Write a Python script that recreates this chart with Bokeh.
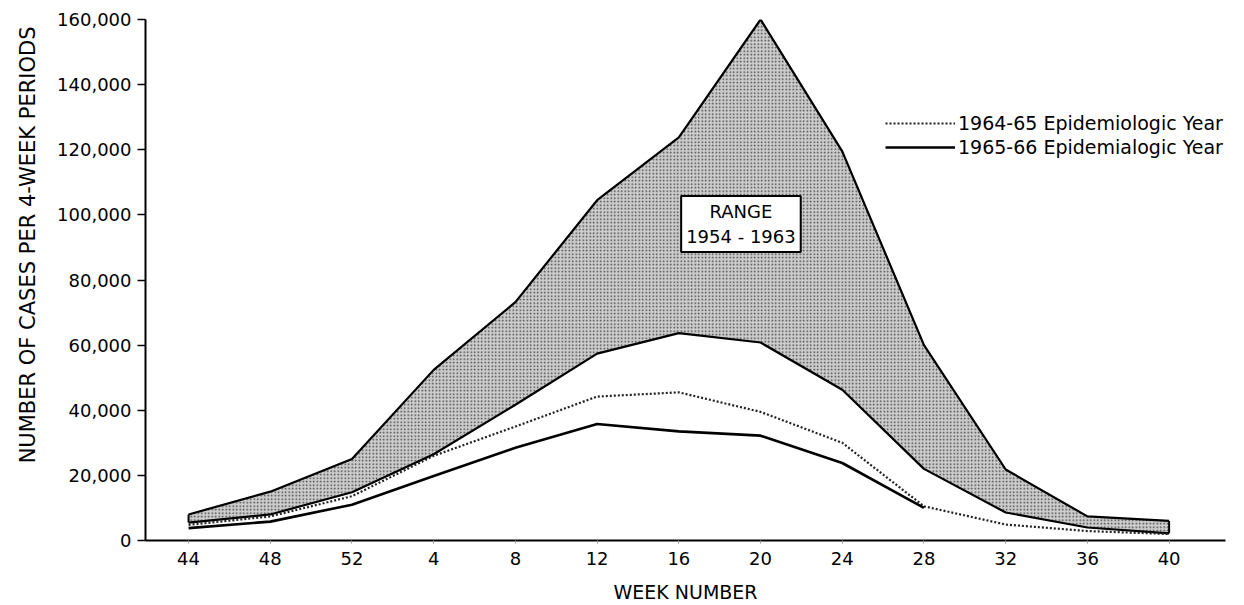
from bokeh.plotting import figure
from bokeh.models import (Range1d, FixedTicker, NumeralTickFormatter, Legend, LegendItem,
                          Label, ColumnDataSource, Title)
from bokeh.embed import file_html
from bokeh.resources import INLINE

weeks = ["44", "48", "52", "4", "8", "12", "16", "20", "24", "28", "32", "36", "40"]
range_high = [8000, 15000, 25000, 52400, 73200, 104500, 123800, 160000, 119500, 60000, 21800, 7400, 6000]
range_low = [5500, 8000, 14800, 26500, 41700, 57400, 63700, 60800, 46300, 22000, 8600, 4000, 2200]
y1964_65 = [4800, 7400, 13600, 26000, 35000, 44200, 45500, 39500, 30000, 10500, 4900, 2900, 2000]
y1965_66 = [3800, 5800, 11000, 19800, 28500, 35800, 33500, 32200, 23800, 10000]
y_ticks = [0, 20000, 40000, 60000, 80000, 100000, 120000, 140000, 160000]

FONT = "DejaVu Sans"
idx = list(range(len(weeks)))

p = figure(width=1236, height=605, output_backend="svg", toolbar_location=None,
           x_range=Range1d(-0.527, 12.69), y_range=Range1d(0, 160000),
           min_border_left=145, min_border_right=11, min_border_top=19, min_border_bottom=64)
p.outline_line_color = None
p.grid.visible = False
p.background_fill_color = "white"

src = ColumnDataSource(dict(x=idx, hi=range_high, lo=range_low, a=y1964_65))
p.varea(x="x", y1="lo", y2="hi", source=src, fill_color="#cdcdcd",
        hatch_pattern="dot", hatch_color="#444444", hatch_scale=3.5, hatch_weight=1.2)
p.line("x", "hi", source=src, line_color="black", line_width=2.2)
p.line("x", "lo", source=src, line_color="black", line_width=2.2)
# end caps of the range band
p.segment(x0=[idx[0], idx[-1]], y0=[range_low[0], range_low[-1]],
          x1=[idx[0], idx[-1]], y1=[range_high[0], range_high[-1]], line_color="black", line_width=2)

r1 = p.line("x", "a", source=src, line_color="#222222", line_width=2.2, line_dash="2 2")
r2 = p.line(idx[:len(y1965_66)], y1965_66, line_color="black", line_width=2.6)

legend = Legend(items=[LegendItem(label="1964-65 Epidemiologic Year", renderers=[r1]),
                       LegendItem(label="1965-66 Epidemialogic Year", renderers=[r2])],
                location=(740, 382), orientation="vertical",
                glyph_width=70, glyph_height=22, label_height=22, spacing=2, padding=0, margin=0,
                label_standoff=3, label_text_font=FONT, label_text_font_size="19px",
                label_text_color="black",
                background_fill_alpha=0, border_line_color=None)
p.add_layout(legend, "center")

lab = Label(x=6.76, y=97200, text="RANGE\n1954 - 1963", text_align="center", text_baseline="middle",
            text_font=FONT, text_font_size="18px", text_color="black",
            background_fill_color="white", border_line_color="black", border_line_width=2,
            padding=5)
p.add_layout(lab)

# axes
p.xaxis.ticker = FixedTicker(ticks=idx)
p.xaxis.major_label_overrides = {i: w for i, w in zip(idx, weeks)}
p.xaxis.minor_tick_line_color = None
p.xaxis.major_tick_in = 0
p.xaxis.major_tick_out = 3
p.xaxis.major_tick_line_color = "#999999"
p.xaxis.major_label_standoff = 8
p.xaxis.major_label_text_font = FONT
p.xaxis.major_label_text_font_size = "18px"
p.xaxis.major_label_text_color = "black"
p.xaxis.axis_label = "WEEK NUMBER"
p.xaxis.axis_label_text_font = FONT
p.xaxis.axis_label_text_font_style = "normal"
p.xaxis.axis_label_text_font_size = "19px"
p.xaxis.axis_label_text_color = "black"
p.xaxis.axis_label_standoff = 13
p.xaxis.axis_line_width = 2
p.xaxis.axis_line_color = "black"

p.yaxis.ticker = FixedTicker(ticks=y_ticks)
p.yaxis.formatter = NumeralTickFormatter(format="0,0")
p.yaxis.minor_tick_line_color = None
p.yaxis.major_tick_in = 0
p.yaxis.major_tick_out = 8
p.yaxis.major_tick_line_width = 1.5
p.yaxis.major_label_standoff = 6
p.yaxis.major_label_text_font = FONT
p.yaxis.major_label_text_font_size = "18px"
p.yaxis.major_label_text_color = "black"
p.yaxis.axis_line_width = 2
p.yaxis.axis_line_color = "black"

# y-axis title, shifted towards the top as in the original
ytitle = Title(text="NUMBER OF CASES PER 4-WEEK PERIODS", align="right", offset=7,
               vertical_align="top", text_font=FONT, text_font_size="21px",
               text_font_style="normal", text_color="black", standoff=26)
p.add_layout(ytitle, "left")

open("out.html", "w").write(file_html(p, INLINE))
